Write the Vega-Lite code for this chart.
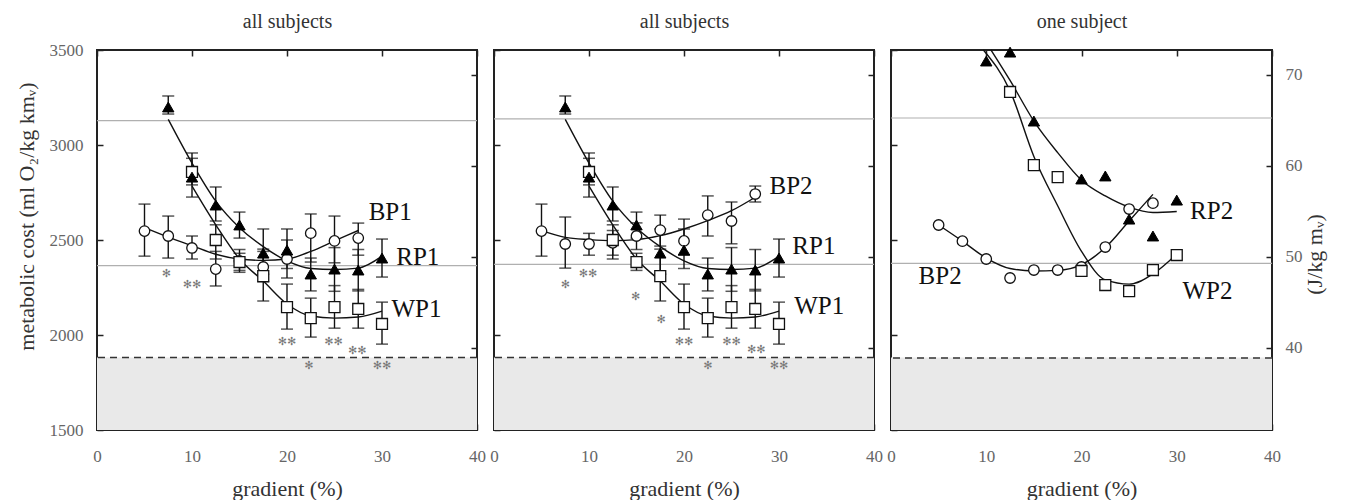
{
"$schema": "https://vega.github.io/schema/vega-lite/v6.json",
"padding": {"left": 14, "top": 10, "right": 3, "bottom": 0},
"bounds": "flush",
"spacing": 17,
"datasets": {
"shade": [{"p":1,"x":0,"x2":40,"y":1500,"y2":1881},{"p":2,"x":0,"x2":40,"y":1500,"y2":1881},{"p":3,"x":0,"x2":40,"y":1500,"y2":1881}],
"hl": [{"p":1,"k":"ref","y":3128},{"p":1,"k":"ref","y":2365},{"p":1,"k":"dash","y":1881},
       {"p":2,"k":"ref","y":3137},{"p":2,"k":"ref","y":2372},{"p":2,"k":"dash","y":1881},
       {"p":3,"k":"ref","y":3142},{"p":3,"k":"ref","y":2377},{"p":3,"k":"dash","y":1879}],
"pts": [
{"p":1,"s":"BP1","x":5,"y":2547,"lo":2415,"hi":2689},
{"p":1,"s":"BP1","x":7.5,"y":2521,"lo":2405,"hi":2626},
{"p":1,"s":"BP1","x":10,"y":2458,"lo":2400,"hi":2521},
{"p":1,"s":"BP1","x":12.5,"y":2347,"lo":2258,"hi":2440},
{"p":1,"s":"BP1","x":15,"y":2390,"lo":2330,"hi":2450},
{"p":1,"s":"BP1","x":17.5,"y":2358,"lo":2280,"hi":2440},
{"p":1,"s":"BP1","x":20,"y":2400,"lo":2300,"hi":2500},
{"p":1,"s":"BP1","x":22.5,"y":2536,"lo":2384,"hi":2637},
{"p":1,"s":"BP1","x":25,"y":2495,"lo":2380,"hi":2626},
{"p":1,"s":"BP1","x":27.5,"y":2510,"lo":2420,"hi":2589},
{"p":1,"s":"WP1","x":10,"y":2858,"lo":2790,"hi":2930},
{"p":1,"s":"WP1","x":12.5,"y":2500,"lo":2400,"hi":2580},
{"p":1,"s":"WP1","x":15,"y":2384,"lo":2340,"hi":2430},
{"p":1,"s":"WP1","x":17.5,"y":2310,"lo":2179,"hi":2452},
{"p":1,"s":"WP1","x":20,"y":2147,"lo":2031,"hi":2268},
{"p":1,"s":"WP1","x":22.5,"y":2089,"lo":1989,"hi":2194},
{"p":1,"s":"WP1","x":25,"y":2147,"lo":2036,"hi":2260},
{"p":1,"s":"WP1","x":27.5,"y":2137,"lo":2036,"hi":2240},
{"p":1,"s":"WP1","x":30,"y":2058,"lo":1952,"hi":2173},
{"p":1,"s":"RP1","x":7.5,"y":3200,"lo":3163,"hi":3258},
{"p":1,"s":"RP1","x":10,"y":2831,"lo":2726,"hi":2958},
{"p":1,"s":"RP1","x":12.5,"y":2684,"lo":2600,"hi":2779},
{"p":1,"s":"RP1","x":15,"y":2579,"lo":2510,"hi":2647},
{"p":1,"s":"RP1","x":17.5,"y":2431,"lo":2320,"hi":2558},
{"p":1,"s":"RP1","x":20,"y":2447,"lo":2350,"hi":2558},
{"p":1,"s":"RP1","x":22.5,"y":2321,"lo":2232,"hi":2405},
{"p":1,"s":"RP1","x":25,"y":2347,"lo":2230,"hi":2460},
{"p":1,"s":"RP1","x":27.5,"y":2342,"lo":2232,"hi":2450},
{"p":1,"s":"RP1","x":30,"y":2405,"lo":2305,"hi":2505},
{"p":2,"s":"BP2","x":5,"y":2547,"lo":2415,"hi":2689},
{"p":2,"s":"BP2","x":7.5,"y":2479,"lo":2352,"hi":2621},
{"p":2,"s":"BP2","x":10,"y":2479,"lo":2420,"hi":2535},
{"p":2,"s":"BP2","x":12.5,"y":2485,"lo":2420,"hi":2550},
{"p":2,"s":"BP2","x":15,"y":2521,"lo":2450,"hi":2590},
{"p":2,"s":"BP2","x":17.5,"y":2552,"lo":2468,"hi":2631},
{"p":2,"s":"BP2","x":20,"y":2495,"lo":2420,"hi":2610},
{"p":2,"s":"BP2","x":22.5,"y":2631,"lo":2521,"hi":2732},
{"p":2,"s":"BP2","x":25,"y":2600,"lo":2480,"hi":2700},
{"p":2,"s":"BP2","x":27.5,"y":2742,"lo":2700,"hi":2784},
{"p":2,"s":"WP1","x":10,"y":2858,"lo":2790,"hi":2930},
{"p":2,"s":"WP1","x":12.5,"y":2500,"lo":2400,"hi":2580},
{"p":2,"s":"WP1","x":15,"y":2384,"lo":2340,"hi":2430},
{"p":2,"s":"WP1","x":17.5,"y":2310,"lo":2179,"hi":2452},
{"p":2,"s":"WP1","x":20,"y":2147,"lo":2031,"hi":2268},
{"p":2,"s":"WP1","x":22.5,"y":2089,"lo":1989,"hi":2194},
{"p":2,"s":"WP1","x":25,"y":2147,"lo":2036,"hi":2260},
{"p":2,"s":"WP1","x":27.5,"y":2137,"lo":2036,"hi":2240},
{"p":2,"s":"WP1","x":30,"y":2058,"lo":1952,"hi":2173},
{"p":2,"s":"RP1","x":7.5,"y":3200,"lo":3163,"hi":3258},
{"p":2,"s":"RP1","x":10,"y":2831,"lo":2726,"hi":2958},
{"p":2,"s":"RP1","x":12.5,"y":2684,"lo":2600,"hi":2779},
{"p":2,"s":"RP1","x":15,"y":2579,"lo":2510,"hi":2647},
{"p":2,"s":"RP1","x":17.5,"y":2431,"lo":2320,"hi":2558},
{"p":2,"s":"RP1","x":20,"y":2447,"lo":2350,"hi":2558},
{"p":2,"s":"RP1","x":22.5,"y":2321,"lo":2232,"hi":2405},
{"p":2,"s":"RP1","x":25,"y":2347,"lo":2230,"hi":2460},
{"p":2,"s":"RP1","x":27.5,"y":2342,"lo":2232,"hi":2450},
{"p":2,"s":"RP1","x":30,"y":2405,"lo":2305,"hi":2505},
{"p":3,"s":"BP2","x":5,"y":2579},
{"p":3,"s":"BP2","x":7.5,"y":2494},
{"p":3,"s":"BP2","x":10,"y":2400},
{"p":3,"s":"BP2","x":12.5,"y":2300},
{"p":3,"s":"BP2","x":15,"y":2342},
{"p":3,"s":"BP2","x":17.5,"y":2342},
{"p":3,"s":"BP2","x":20,"y":2358},
{"p":3,"s":"BP2","x":22.5,"y":2463},
{"p":3,"s":"BP2","x":25,"y":2663},
{"p":3,"s":"BP2","x":27.5,"y":2694},
{"p":3,"s":"WP2","x":12.5,"y":3279},
{"p":3,"s":"WP2","x":15,"y":2894},
{"p":3,"s":"WP2","x":17.5,"y":2831},
{"p":3,"s":"WP2","x":20,"y":2337},
{"p":3,"s":"WP2","x":22.5,"y":2263},
{"p":3,"s":"WP2","x":25,"y":2231},
{"p":3,"s":"WP2","x":27.5,"y":2342},
{"p":3,"s":"WP2","x":30,"y":2421},
{"p":3,"s":"RP2","x":10,"y":3442},
{"p":3,"s":"RP2","x":12.5,"y":3489},
{"p":3,"s":"RP2","x":15,"y":3126},
{"p":3,"s":"RP2","x":20,"y":2821},
{"p":3,"s":"RP2","x":22.5,"y":2837},
{"p":3,"s":"RP2","x":25,"y":2610},
{"p":3,"s":"RP2","x":27.5,"y":2521},
{"p":3,"s":"RP2","x":30,"y":2710}
],
"fits": [
{"p":1,"s":"BP1","x":5,"y":2565},{"p":1,"s":"BP1","x":7.5,"y":2515},{"p":1,"s":"BP1","x":10,"y":2470},{"p":1,"s":"BP1","x":12.5,"y":2425},{"p":1,"s":"BP1","x":15,"y":2400},{"p":1,"s":"BP1","x":17.5,"y":2393},{"p":1,"s":"BP1","x":20,"y":2400},{"p":1,"s":"BP1","x":22.5,"y":2440},{"p":1,"s":"BP1","x":25,"y":2495},{"p":1,"s":"BP1","x":27.5,"y":2550},
{"p":1,"s":"RP1","x":7.5,"y":3135},{"p":1,"s":"RP1","x":10,"y":2905},{"p":1,"s":"RP1","x":12.5,"y":2705},{"p":1,"s":"RP1","x":15,"y":2565},{"p":1,"s":"RP1","x":17.5,"y":2465},{"p":1,"s":"RP1","x":20,"y":2390},{"p":1,"s":"RP1","x":22.5,"y":2350},{"p":1,"s":"RP1","x":25,"y":2345},{"p":1,"s":"RP1","x":27.5,"y":2352},{"p":1,"s":"RP1","x":30,"y":2415},
{"p":1,"s":"WP1","x":10,"y":2784},{"p":1,"s":"WP1","x":12.5,"y":2580},{"p":1,"s":"WP1","x":15,"y":2400},{"p":1,"s":"WP1","x":17.5,"y":2284},{"p":1,"s":"WP1","x":20,"y":2163},{"p":1,"s":"WP1","x":22.5,"y":2100},{"p":1,"s":"WP1","x":25,"y":2089},{"p":1,"s":"WP1","x":27.5,"y":2095},{"p":1,"s":"WP1","x":30,"y":2126},
{"p":2,"s":"BP2","x":5,"y":2549},{"p":2,"s":"BP2","x":7.5,"y":2514},{"p":2,"s":"BP2","x":10,"y":2502},{"p":2,"s":"BP2","x":12.5,"y":2496},{"p":2,"s":"BP2","x":15,"y":2502},{"p":2,"s":"BP2","x":17.5,"y":2523},{"p":2,"s":"BP2","x":20,"y":2558},{"p":2,"s":"BP2","x":22.5,"y":2602},{"p":2,"s":"BP2","x":25,"y":2654},{"p":2,"s":"BP2","x":27.5,"y":2725},
{"p":2,"s":"RP1","x":7.5,"y":3135},{"p":2,"s":"RP1","x":10,"y":2905},{"p":2,"s":"RP1","x":12.5,"y":2705},{"p":2,"s":"RP1","x":15,"y":2565},{"p":2,"s":"RP1","x":17.5,"y":2465},{"p":2,"s":"RP1","x":20,"y":2390},{"p":2,"s":"RP1","x":22.5,"y":2350},{"p":2,"s":"RP1","x":25,"y":2345},{"p":2,"s":"RP1","x":27.5,"y":2352},{"p":2,"s":"RP1","x":30,"y":2415},
{"p":2,"s":"WP1","x":10,"y":2784},{"p":2,"s":"WP1","x":12.5,"y":2580},{"p":2,"s":"WP1","x":15,"y":2400},{"p":2,"s":"WP1","x":17.5,"y":2284},{"p":2,"s":"WP1","x":20,"y":2163},{"p":2,"s":"WP1","x":22.5,"y":2100},{"p":2,"s":"WP1","x":25,"y":2089},{"p":2,"s":"WP1","x":27.5,"y":2095},{"p":2,"s":"WP1","x":30,"y":2126},
{"p":3,"s":"BP2","x":5,"y":2579},{"p":3,"s":"BP2","x":7.5,"y":2494},{"p":3,"s":"BP2","x":10,"y":2405},{"p":3,"s":"BP2","x":12.5,"y":2350},{"p":3,"s":"BP2","x":15,"y":2337},{"p":3,"s":"BP2","x":17.5,"y":2340},{"p":3,"s":"BP2","x":20,"y":2370},{"p":3,"s":"BP2","x":22.5,"y":2460},{"p":3,"s":"BP2","x":25,"y":2600},{"p":3,"s":"BP2","x":27.5,"y":2740},
{"p":3,"s":"RP2","x":10.5,"y":3500},{"p":3,"s":"RP2","x":12.5,"y":3340},{"p":3,"s":"RP2","x":15,"y":3126},{"p":3,"s":"RP2","x":17.5,"y":2960},{"p":3,"s":"RP2","x":20,"y":2815},{"p":3,"s":"RP2","x":22.5,"y":2732},{"p":3,"s":"RP2","x":25,"y":2673},{"p":3,"s":"RP2","x":27.5,"y":2645},{"p":3,"s":"RP2","x":30,"y":2650},
{"p":3,"s":"WP2","x":9.7,"y":3500},{"p":3,"s":"WP2","x":12.5,"y":3285},{"p":3,"s":"WP2","x":15,"y":2940},{"p":3,"s":"WP2","x":17.5,"y":2680},{"p":3,"s":"WP2","x":20,"y":2440},{"p":3,"s":"WP2","x":22.5,"y":2290},{"p":3,"s":"WP2","x":25,"y":2268},{"p":3,"s":"WP2","x":27.5,"y":2321},{"p":3,"s":"WP2","x":30,"y":2426}
],
"stars": [
{"p":1,"t":"✻","x":7.3,"y":2321},{"p":1,"t":"✻✻","x":10,"y":2263},{"p":1,"t":"✻✻","x":20,"y":1963},{"p":1,"t":"✻","x":22.3,"y":1837},{"p":1,"t":"✻✻","x":24.9,"y":1963},{"p":1,"t":"✻✻","x":27.4,"y":1915},{"p":1,"t":"✻✻","x":30,"y":1837},
{"p":2,"t":"✻","x":7.5,"y":2263},{"p":2,"t":"✻✻","x":9.9,"y":2321},{"p":2,"t":"✻","x":14.9,"y":2200},{"p":2,"t":"✻","x":17.6,"y":2079},{"p":2,"t":"✻✻","x":20,"y":1963},{"p":2,"t":"✻","x":22.5,"y":1837},{"p":2,"t":"✻✻","x":25,"y":1963},{"p":2,"t":"✻✻","x":27.6,"y":1921},{"p":2,"t":"✻✻","x":30,"y":1837}
],
"labels": [
{"p":1,"t":"BP1","x":28.6,"y":2647},{"p":1,"t":"RP1","x":31.5,"y":2409},{"p":1,"t":"WP1","x":31.0,"y":2137},
{"p":2,"t":"BP2","x":29.0,"y":2786},{"p":2,"t":"RP1","x":31.4,"y":2470},{"p":2,"t":"WP1","x":31.6,"y":2154},
{"p":3,"t":"RP2","x":31.4,"y":2654},{"p":3,"t":"BP2","x":2.9,"y":2312},{"p":3,"t":"WP2","x":30.6,"y":2233}
],
"jaxis": [{"x":0,"j":40},{"x":40,"j":70}]
},
"hconcat": [
{
"width": 380, "height": 380,
"layer": [
{"layer": [
{"data":{"name":"shade"},"transform":[{"filter":"datum.p==1"}],"mark":{"type":"rect","color":"#e9e9e9"},
 "encoding":{"x":{"field":"x","type":"quantitative","scale":{"domain":[0,40],"nice":false,"zero":false},"axis":{"orient":"bottom","values":[0,10,20,30,40],"format":"d","title":"gradient (%)","labelPadding":24,"titlePadding":14}},"x2":{"field":"x2"},
 "y":{"field":"y","type":"quantitative","scale":{"domain":[1500,3500],"nice":false,"zero":false},"axis":{"orient":"left","values":[1500,2000,2500,3000,3500],"format":"d","title":"metabolic cost (ml O₂/kg kmᵥ)","labelPadding":20,"titlePadding":11,"titleY":166}},"y2":{"field":"y2"}}},
{"data":{"name":"hl"},"transform":[{"filter":"datum.p==1 && datum.k=='ref'"}],"mark":{"type":"rule","color":"#b0b0b0","strokeWidth":1.2},"encoding":{"y":{"field":"y","type":"quantitative"}}},
{"data":{"name":"hl"},"transform":[{"filter":"datum.p==1 && datum.k=='dash'"}],"mark":{"type":"rule","color":"#333","strokeWidth":1.5,"strokeDash":[7,5]},"encoding":{"y":{"field":"y","type":"quantitative"}}},
{"data":{"name":"pts"},"transform":[{"filter":"datum.p==1 && isValid(datum.lo)"}],"mark":{"type":"rule","color":"#111","strokeWidth":1.4},"encoding":{"x":{"field":"x","type":"quantitative"},"y":{"field":"lo","type":"quantitative"},"y2":{"field":"hi"}}},
{"data":{"name":"pts"},"transform":[{"filter":"datum.p==1 && isValid(datum.lo)"}],"mark":{"type":"tick","orient":"horizontal","size":12,"thickness":1.5,"color":"#111"},"encoding":{"x":{"field":"x","type":"quantitative"},"y":{"field":"lo","type":"quantitative"}}},
{"data":{"name":"pts"},"transform":[{"filter":"datum.p==1 && isValid(datum.lo)"}],"mark":{"type":"tick","orient":"horizontal","size":12,"thickness":1.5,"color":"#111"},"encoding":{"x":{"field":"x","type":"quantitative"},"y":{"field":"hi","type":"quantitative"}}},
{"data":{"name":"fits"},"transform":[{"filter":"datum.p==1"}],"mark":{"type":"line","interpolate":"monotone","color":"#111","strokeWidth":1.4},"encoding":{"x":{"field":"x","type":"quantitative"},"y":{"field":"y","type":"quantitative"},"detail":{"field":"s"}}},
{"data":{"name":"pts"},"transform":[{"filter":"datum.p==1 && indexof(datum.s,'BP')==0"}],"mark":{"type":"point","shape":"circle","size":110,"filled":true,"fill":"white","stroke":"#111","strokeWidth":1.3,"opacity":1},"encoding":{"x":{"field":"x","type":"quantitative"},"y":{"field":"y","type":"quantitative"}}},
{"data":{"name":"pts"},"transform":[{"filter":"datum.p==1 && indexof(datum.s,'WP')==0"}],"mark":{"type":"point","shape":"square","size":120,"filled":true,"fill":"white","stroke":"#111","strokeWidth":1.3,"opacity":1},"encoding":{"x":{"field":"x","type":"quantitative"},"y":{"field":"y","type":"quantitative"}}},
{"data":{"name":"pts"},"transform":[{"filter":"datum.p==1 && indexof(datum.s,'RP')==0"}],"mark":{"type":"point","shape":"triangle-up","size":130,"filled":true,"fill":"#000","stroke":"#000","strokeWidth":1,"opacity":1},"encoding":{"x":{"field":"x","type":"quantitative"},"y":{"field":"y","type":"quantitative"}}},
{"data":{"name":"stars"},"transform":[{"filter":"datum.p==1"}],"mark":{"type":"text","font":"DejaVu Sans","fontSize":11,"color":"#777","align":"center","baseline":"middle"},"encoding":{"x":{"field":"x","type":"quantitative"},"y":{"field":"y","type":"quantitative"},"text":{"field":"t"}}},
{"data":{"name":"labels"},"transform":[{"filter":"datum.p==1"}],"mark":{"type":"text","font":"Liberation Serif","fontSize":25,"color":"#111","align":"left","baseline":"middle"},"encoding":{"x":{"field":"x","type":"quantitative"},"y":{"field":"y","type":"quantitative"},"text":{"field":"t"}}}
]},
{"data":{"name":"jaxis"},"mark":{"type":"point","opacity":0},"encoding":{"x":{"field":"x","type":"quantitative","scale":{"domain":[0,40],"nice":false,"zero":false},"axis":{"orient":"top","values":[0,10,20,30,40],"labels":false,"title":"all subjects","titleFontSize":20,"titlePadding":18}},"y":{"field":"j","type":"quantitative","scale":{"domain":[31.0,72.7],"nice":false,"zero":false},"axis":{"orient":"right","values":[40,50,60,70],"labels":false,"title":null}}}}
],
"resolve":{"scale":{"y":"independent"},"axis":{"x":"independent","y":"independent"}}
},
{
"width": 380, "height": 380,
"layer": [
{"layer": [
{"data":{"name":"shade"},"transform":[{"filter":"datum.p==2"}],"mark":{"type":"rect","color":"#e9e9e9"},
 "encoding":{"x":{"field":"x","type":"quantitative","scale":{"domain":[0,40],"nice":false,"zero":false},"axis":{"orient":"bottom","values":[0,10,20,30,40],"format":"d","title":"gradient (%)","labelPadding":24,"titlePadding":14}},"x2":{"field":"x2"},
 "y":{"field":"y","type":"quantitative","scale":{"domain":[1500,3500],"nice":false,"zero":false},"axis":{"orient":"left","values":[1500,2000,2500,3000,3500],"labels":false,"title":null}},"y2":{"field":"y2"}}},
{"data":{"name":"hl"},"transform":[{"filter":"datum.p==2 && datum.k=='ref'"}],"mark":{"type":"rule","color":"#b0b0b0","strokeWidth":1.2},"encoding":{"y":{"field":"y","type":"quantitative"}}},
{"data":{"name":"hl"},"transform":[{"filter":"datum.p==2 && datum.k=='dash'"}],"mark":{"type":"rule","color":"#333","strokeWidth":1.5,"strokeDash":[7,5]},"encoding":{"y":{"field":"y","type":"quantitative"}}},
{"data":{"name":"pts"},"transform":[{"filter":"datum.p==2 && isValid(datum.lo)"}],"mark":{"type":"rule","color":"#111","strokeWidth":1.4},"encoding":{"x":{"field":"x","type":"quantitative"},"y":{"field":"lo","type":"quantitative"},"y2":{"field":"hi"}}},
{"data":{"name":"pts"},"transform":[{"filter":"datum.p==2 && isValid(datum.lo)"}],"mark":{"type":"tick","orient":"horizontal","size":12,"thickness":1.5,"color":"#111"},"encoding":{"x":{"field":"x","type":"quantitative"},"y":{"field":"lo","type":"quantitative"}}},
{"data":{"name":"pts"},"transform":[{"filter":"datum.p==2 && isValid(datum.lo)"}],"mark":{"type":"tick","orient":"horizontal","size":12,"thickness":1.5,"color":"#111"},"encoding":{"x":{"field":"x","type":"quantitative"},"y":{"field":"hi","type":"quantitative"}}},
{"data":{"name":"fits"},"transform":[{"filter":"datum.p==2"}],"mark":{"type":"line","interpolate":"monotone","color":"#111","strokeWidth":1.4},"encoding":{"x":{"field":"x","type":"quantitative"},"y":{"field":"y","type":"quantitative"},"detail":{"field":"s"}}},
{"data":{"name":"pts"},"transform":[{"filter":"datum.p==2 && indexof(datum.s,'BP')==0"}],"mark":{"type":"point","shape":"circle","size":110,"filled":true,"fill":"white","stroke":"#111","strokeWidth":1.3,"opacity":1},"encoding":{"x":{"field":"x","type":"quantitative"},"y":{"field":"y","type":"quantitative"}}},
{"data":{"name":"pts"},"transform":[{"filter":"datum.p==2 && indexof(datum.s,'WP')==0"}],"mark":{"type":"point","shape":"square","size":120,"filled":true,"fill":"white","stroke":"#111","strokeWidth":1.3,"opacity":1},"encoding":{"x":{"field":"x","type":"quantitative"},"y":{"field":"y","type":"quantitative"}}},
{"data":{"name":"pts"},"transform":[{"filter":"datum.p==2 && indexof(datum.s,'RP')==0"}],"mark":{"type":"point","shape":"triangle-up","size":130,"filled":true,"fill":"#000","stroke":"#000","strokeWidth":1,"opacity":1},"encoding":{"x":{"field":"x","type":"quantitative"},"y":{"field":"y","type":"quantitative"}}},
{"data":{"name":"stars"},"transform":[{"filter":"datum.p==2"}],"mark":{"type":"text","font":"DejaVu Sans","fontSize":11,"color":"#777","align":"center","baseline":"middle"},"encoding":{"x":{"field":"x","type":"quantitative"},"y":{"field":"y","type":"quantitative"},"text":{"field":"t"}}},
{"data":{"name":"labels"},"transform":[{"filter":"datum.p==2"}],"mark":{"type":"text","font":"Liberation Serif","fontSize":25,"color":"#111","align":"left","baseline":"middle"},"encoding":{"x":{"field":"x","type":"quantitative"},"y":{"field":"y","type":"quantitative"},"text":{"field":"t"}}}
]},
{"data":{"name":"jaxis"},"mark":{"type":"point","opacity":0},"encoding":{"x":{"field":"x","type":"quantitative","scale":{"domain":[0,40],"nice":false,"zero":false},"axis":{"orient":"top","values":[0,10,20,30,40],"labels":false,"title":"all subjects","titleFontSize":20,"titlePadding":18}},"y":{"field":"j","type":"quantitative","scale":{"domain":[31.0,72.7],"nice":false,"zero":false},"axis":{"orient":"right","values":[40,50,60,70],"labels":false,"title":null}}}}
],
"resolve":{"scale":{"y":"independent"},"axis":{"x":"independent","y":"independent"}}
},
{
"width": 381, "height": 380,
"layer": [
{"layer": [
{"data":{"name":"shade"},"transform":[{"filter":"datum.p==3"}],"mark":{"type":"rect","color":"#e9e9e9"},
 "encoding":{"x":{"field":"x","type":"quantitative","scale":{"domain":[0,40],"nice":false,"zero":false},"axis":{"orient":"bottom","values":[0,10,20,30,40],"format":"d","title":"gradient (%)","labelPadding":24,"titlePadding":14}},"x2":{"field":"x2"},
 "y":{"field":"y","type":"quantitative","scale":{"domain":[1500,3500],"nice":false,"zero":false},"axis":{"orient":"left","values":[1500,2000,2500,3000,3500],"labels":false,"title":null}},"y2":{"field":"y2"}}},
{"data":{"name":"hl"},"transform":[{"filter":"datum.p==3 && datum.k=='ref'"}],"mark":{"type":"rule","color":"#b0b0b0","strokeWidth":1.2},"encoding":{"y":{"field":"y","type":"quantitative"}}},
{"data":{"name":"hl"},"transform":[{"filter":"datum.p==3 && datum.k=='dash'"}],"mark":{"type":"rule","color":"#333","strokeWidth":1.5,"strokeDash":[7,5]},"encoding":{"y":{"field":"y","type":"quantitative"}}},
{"data":{"name":"fits"},"transform":[{"filter":"datum.p==3"}],"mark":{"type":"line","interpolate":"monotone","color":"#111","strokeWidth":1.4},"encoding":{"x":{"field":"x","type":"quantitative"},"y":{"field":"y","type":"quantitative"},"detail":{"field":"s"}}},
{"data":{"name":"pts"},"transform":[{"filter":"datum.p==3 && indexof(datum.s,'BP')==0"}],"mark":{"type":"point","shape":"circle","size":110,"filled":true,"fill":"white","stroke":"#111","strokeWidth":1.3,"opacity":1},"encoding":{"x":{"field":"x","type":"quantitative"},"y":{"field":"y","type":"quantitative"}}},
{"data":{"name":"pts"},"transform":[{"filter":"datum.p==3 && indexof(datum.s,'WP')==0"}],"mark":{"type":"point","shape":"square","size":120,"filled":true,"fill":"white","stroke":"#111","strokeWidth":1.3,"opacity":1},"encoding":{"x":{"field":"x","type":"quantitative"},"y":{"field":"y","type":"quantitative"}}},
{"data":{"name":"pts"},"transform":[{"filter":"datum.p==3 && indexof(datum.s,'RP')==0"}],"mark":{"type":"point","shape":"triangle-up","size":130,"filled":true,"fill":"#000","stroke":"#000","strokeWidth":1,"opacity":1},"encoding":{"x":{"field":"x","type":"quantitative"},"y":{"field":"y","type":"quantitative"}}},
{"data":{"name":"labels"},"transform":[{"filter":"datum.p==3"}],"mark":{"type":"text","font":"Liberation Serif","fontSize":25,"color":"#111","align":"left","baseline":"middle"},"encoding":{"x":{"field":"x","type":"quantitative"},"y":{"field":"y","type":"quantitative"},"text":{"field":"t"}}}
]},
{"data":{"name":"jaxis"},"mark":{"type":"point","opacity":0},"encoding":{"x":{"field":"x","type":"quantitative","scale":{"domain":[0,40],"nice":false,"zero":false},"axis":{"orient":"top","values":[0,10,20,30,40],"labels":false,"title":"one subject","titleFontSize":20,"titlePadding":18}},"y":{"field":"j","type":"quantitative","scale":{"domain":[31.0,72.7],"nice":false,"zero":false},"axis":{"orient":"right","values":[40,50,60,70],"format":"d","title":"(J/kg mᵥ)","titleAngle":-90,"labelPadding":19,"titlePadding":24,"titleY":204}}}}
],
"resolve":{"scale":{"y":"independent"},"axis":{"x":"independent","y":"independent"}}
}
],
"config": {
"font": "Liberation Serif",
"background": "white",
"view": {"stroke": "#222", "strokeWidth": 2},
"axis": {"grid": false, "domain": false, "tickSize": -6, "tickColor": "#222", "tickWidth": 1.5, "labelFont": "Liberation Serif", "labelFontSize": 17, "labelColor": "#666", "titleFont": "Liberation Serif", "titleFontSize": 22, "titleFontWeight": "normal", "titleColor": "#333", "labelFlush": false, "labelBound": false}
}
}
